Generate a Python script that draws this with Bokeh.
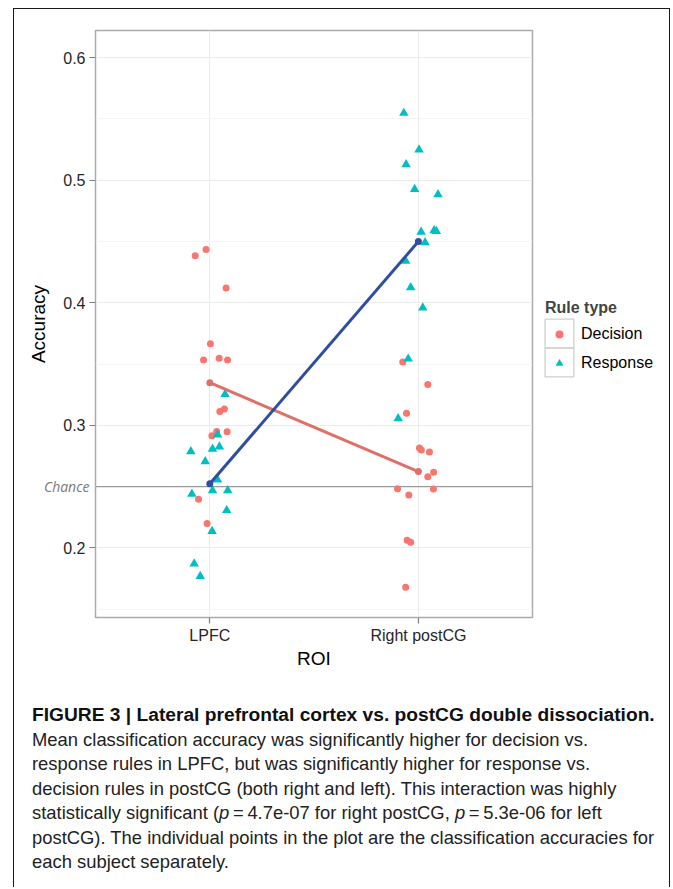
import numpy as np
from bokeh.plotting import figure
from bokeh.models import (Range1d, FixedTicker, Span, Label, Legend, LegendItem, Div)
from bokeh.layouts import column, row
from bokeh.embed import file_html
from bokeh.resources import INLINE

# ---------------- data ----------------
rois = ["LPFC", "Right postCG"]
rule_types = ["Decision", "Response"]
y_ticks = [0.2, 0.3, 0.4, 0.5, 0.6]
y_minor = [0.15, 0.25, 0.35, 0.45, 0.55]
chance = 0.25

# per-subject accuracies and their horizontal jitter (fraction of category spacing)
lpfc_dec_acc = [0.4383, 0.4435, 0.4120, 0.3666, 0.3533, 0.3547, 0.3533,
                0.3112, 0.3134, 0.2914, 0.2950, 0.2947, 0.2396, 0.2198]
lpfc_dec_jit = [-0.070, -0.018, 0.078, 0.003, -0.030, 0.045, 0.085,
                0.048, 0.070, 0.010, 0.033, 0.083, -0.054, -0.013]
lpfc_resp_acc = [0.3254, 0.2923, 0.2787, 0.2806, 0.2825, 0.2705, 0.2556,
                 0.2440, 0.2469, 0.2469, 0.2306, 0.2135, 0.1870, 0.1769]
lpfc_resp_jit = [0.073, 0.037, -0.091, 0.013, 0.046, -0.022, 0.037,
                 -0.086, 0.013, 0.086, 0.081, 0.011, -0.075, -0.046]
post_dec_acc = [0.3517, 0.3332, 0.3099, 0.2814, 0.2798, 0.2782, 0.2581,
                0.2616, 0.2483, 0.2432, 0.2480, 0.2062, 0.2046, 0.1679]
post_dec_jit = [-0.075, 0.045, -0.057, 0.005, 0.014, 0.053, 0.045,
                0.073, -0.100, -0.046, 0.072, -0.054, -0.037, -0.061]
post_resp_acc = [0.5547, 0.5249, 0.5127, 0.4926, 0.4883, 0.4578, 0.4590,
                 0.4584, 0.4492, 0.4340, 0.4125, 0.3959, 0.3542, 0.3055]
post_resp_jit = [-0.070, 0.003, -0.059, -0.018, 0.094, 0.013, 0.075,
                 0.086, 0.032, -0.061, -0.037, 0.021, -0.049, -0.097]

caption_title = "FIGURE 3 | Lateral prefrontal cortex vs. postCG double dissociation."
caption_lines = [
    "Mean classification accuracy was significantly higher for decision vs.",
    "response rules in LPFC, but was significantly higher for response vs.",
    "decision rules in postCG (both right and left). This interaction was highly",
    "statistically significant (<i>p</i>&#8201;=&#8201;4.7e-07 for right postCG, <i>p</i>&#8201;=&#8201;5.3e-06 for left",
    "postCG). The individual points in the plot are the classification accuracies for",
    "each subject separately.",
]

# ---------------- styling ----------------
DEC = "#F8766D"
RESP = "#00BFC4"
DEC_MEAN = "#E06F68"
RESP_MEAN = "#2F4E9E"
FONT = "Liberation Sans"

idx = {r: i for i, r in enumerate(rois)}
dec_x = [idx["LPFC"] + j for j in lpfc_dec_jit] + [idx["Right postCG"] + j for j in post_dec_jit]
dec_y = lpfc_dec_acc + post_dec_acc
resp_x = [idx["LPFC"] + j for j in lpfc_resp_jit] + [idx["Right postCG"] + j for j in post_resp_jit]
resp_y = lpfc_resp_acc + post_resp_acc
mean_x = [idx[r] for r in rois]
dec_mean = [float(np.mean(lpfc_dec_acc)), float(np.mean(post_dec_acc))]
resp_mean = [float(np.mean(lpfc_resp_acc)), float(np.mean(post_resp_acc))]

x_range = Range1d(-0.548, 1.547)
p = figure(width=520, height=681, output_backend="svg", toolbar_location=None,
           x_range=x_range, y_range=Range1d(0.1432, 0.6221),
           min_border_left=81, min_border_right=2, min_border_top=21, min_border_bottom=72)
p.background_fill_color = "white"
p.border_fill_color = "white"
p.outline_line_color = "#ABABAB"
p.outline_line_width = 1.5

# grids
p.xgrid.ticker = FixedTicker(ticks=mean_x)
p.xgrid.grid_line_color = "#EBEBEB"
p.ygrid.ticker = FixedTicker(ticks=y_ticks, minor_ticks=y_minor)
p.ygrid.grid_line_color = "#EBEBEB"
p.ygrid.minor_grid_line_color = "#F4F4F4"

# axes
p.xaxis.ticker = FixedTicker(ticks=mean_x)
p.xaxis.major_label_overrides = {i: r for i, r in enumerate(rois)}
p.yaxis.ticker = FixedTicker(ticks=y_ticks)
for ax in (p.xaxis[0], p.yaxis[0]):
    ax.axis_line_color = None
    ax.major_tick_line_color = "#7F7F7F"
    ax.major_tick_line_width = 1.2
    ax.major_tick_out = 6
    ax.major_tick_in = 0
    ax.minor_tick_line_color = None
    ax.major_label_text_font = FONT
    ax.major_label_text_font_size = "16px"
    ax.major_label_text_color = "#262626"
    ax.axis_label_text_font = FONT
    ax.axis_label_text_font_size = "19px"
    ax.axis_label_text_font_style = "normal"
    ax.axis_label_text_color = "black"
p.xaxis.axis_label = "ROI"
p.yaxis.axis_label = "Accuracy"
p.xaxis.major_label_standoff = 3
p.xaxis.axis_label_standoff = 1
p.yaxis.major_label_standoff = 4
p.yaxis.axis_label_standoff = 11

# chance line and its label (label lives in a side panel so it is not clipped to the frame)
p.add_layout(Span(location=chance, dimension="width", line_color="#9A9A9A", line_width=1.4,
                  level="underlay"))
chance_label = Label(x=x_range.start, y=chance, x_units="data", y_units="data", x_offset=-6,
                     text="Chance", text_align="right", text_baseline="middle",
                     text_font="Open Sans", text_font_style="italic", text_font_size="14px",
                     text_color="#7A7A7A")
p.add_layout(chance_label, "below")

# points
p.scatter(dec_x, dec_y, marker="circle", size=7, fill_color=DEC, line_color=None)
p.scatter(resp_x, resp_y, marker="triangle", size=9.5, fill_color=RESP, line_color=None)

# mean lines
p.line(mean_x, dec_mean, line_color=DEC_MEAN, line_width=3)
p.scatter(mean_x, dec_mean, marker="circle", size=7, fill_color=DEC_MEAN, line_color=None)
p.line(mean_x, resp_mean, line_color=RESP_MEAN, line_width=3)
p.scatter(mean_x, resp_mean, marker="circle", size=7, fill_color=RESP_MEAN, line_color=None)

# ---------------- legend panel (separate legend-only figure) ----------------
# its ranges lie away from the data, so its renderers only show up as legend keys
lg = figure(width=135, height=681, output_backend="svg", toolbar_location=None,
            x_range=Range1d(100, 101), y_range=Range1d(100, 101), x_axis_location=None,
            y_axis_location=None, min_border=0)
lg.grid.visible = False
lg.outline_line_color = None
lg.background_fill_color = "white"
lg.border_fill_color = "white"
key_dec = lg.scatter(dec_x, dec_y, marker="circle", size=7, fill_color=DEC, line_color=None)
key_resp = lg.scatter(resp_x, resp_y, marker="triangle", size=9.5, fill_color=RESP,
                      line_color=None)
key_box = lg.quad(left=dec_x, right=dec_x, top=dec_y, bottom=dec_y, fill_color=None,
                  line_color="#CFCFCF", line_width=1.3)
box_style = dict(glyph_width=36, glyph_height=36, padding=0, margin=0, label_standoff=0,
                 border_line_color=None, background_fill_alpha=0, label_text_font_size="8px")
lg.add_layout(Legend(items=[LegendItem(label=" ", renderers=[key_box])],
                     location=(7, 265.6), **box_style))
lg.add_layout(Legend(items=[LegendItem(label=" ", renderers=[key_box])],
                     location=(7, 236.6), **box_style))
lg.add_layout(Legend(items=[LegendItem(label=rule_types[0], renderers=[key_dec]),
                            LegendItem(label=rule_types[1], renderers=[key_resp])],
                     title="Rule type", location=(11, 244.5), glyph_width=28, glyph_height=20,
                     spacing=9, padding=0, margin=0, label_standoff=8, title_standoff=7,
                     border_line_color=None, background_fill_alpha=0,
                     title_text_font=FONT, title_text_font_style="bold",
                     title_text_font_size="16px", label_text_font=FONT,
                     label_text_font_size="16px", label_text_color="black"))

html = ("<div style=\"font-family:'Liberation Sans',Arial,sans-serif;"
        "font-size:18.4px;line-height:24.5px;color:#222;padding:13px 0 0 18px;white-space:nowrap;\">"
        "<b style='color:#111;font-size:19.2px'>" + caption_title + "</b><br>"
        + "<br>".join(caption_lines) + "</div>")
div = Div(text=html, width=655, height=197, margin=0)

layout = column(row(p, lg), div, margin=(8, 0, 0, 13),
                styles={"border": "1px solid #1a1a1a", "border-bottom": "none"})
open("out.html", "w").write(file_html(layout, INLINE))
